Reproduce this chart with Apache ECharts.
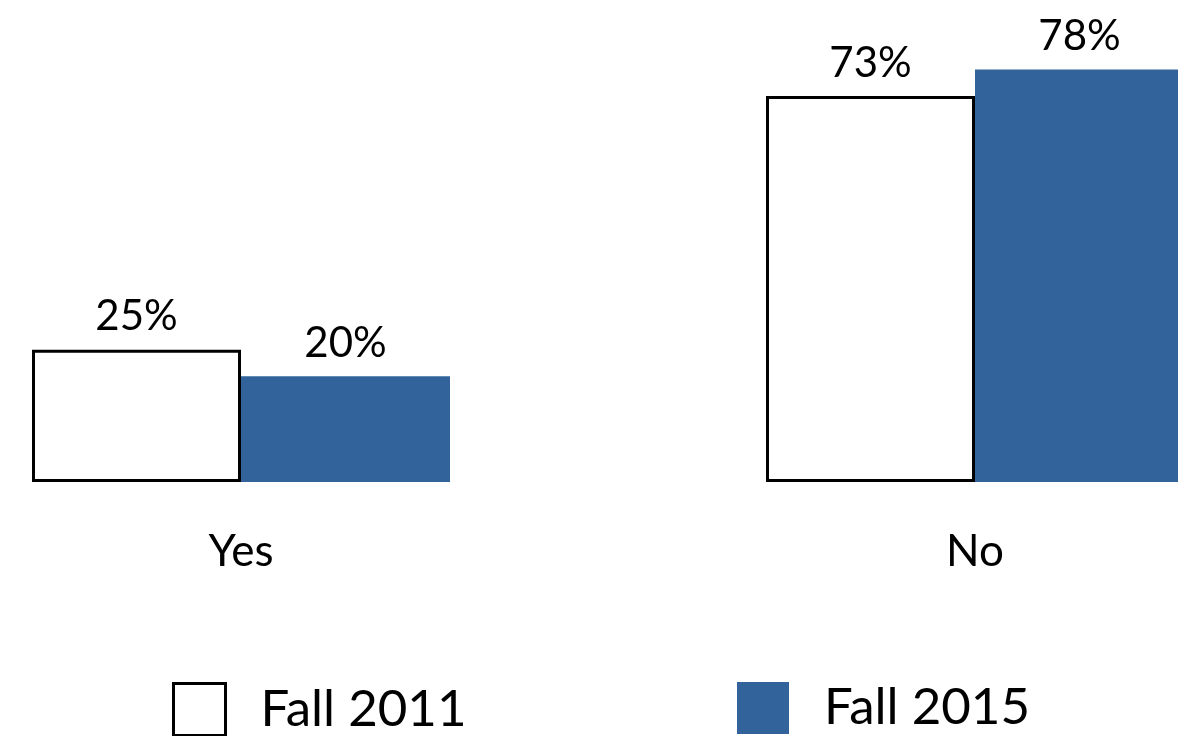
<!DOCTYPE html>
<html>
<head>
<meta charset="utf-8">
<script src="https://cdn.jsdelivr.net/npm/echarts@6/dist/echarts.min.js"></script>
<style>
  html, body { margin: 0; padding: 0; background: #fff; }
  #chart { width: 1178px; height: 736px; }
</style>
</head>
<body>
<div id="chart"></div>
<script>
var categories = ['Yes', 'No'];
var seriesNames = ['Fall 2011', 'Fall 2015'];
var fall2011 = [25, 73];
var fall2015 = [20, 78];

var FONT = 'Lato';
var BLUE = '#32639a';

var mychart = echarts.init(document.getElementById('chart'));

function pctLabel(p) {
  return p.value + '%';
}

var labelStyle = {
  show: true,
  position: 'top',
  distance: 12,
  formatter: pctLabel,
  color: '#000',
  fontFamily: FONT,
  fontSize: 42
};

function legendFor(name, left, style) {
  return {
    left: left,
    top: 677,
    orient: 'horizontal',
    itemWidth: 52,
    itemHeight: 52,
    icon: 'rect',
    selectedMode: false,
    data: [{ name: name, itemStyle: style }],
    textStyle: {
      color: '#000',
      fontFamily: FONT,
      fontSize: 51,
      padding: [0, 0, 0, 30]
    }
  };
}

var option = {
  animation: false,
  backgroundColor: '#fff',
  grid: {
    left: -126,
    right: -164,
    top: 59,
    bottom: 254,
    containLabel: false,
    outerBoundsMode: 'none'
  },
  legend: [
    legendFor(seriesNames[0], 167, { color: '#fff', borderColor: '#000', borderWidth: 3 }),
    legendFor(seriesNames[1], 732, { color: BLUE, borderWidth: 0 })
  ],
  xAxis: {
    type: 'category',
    data: categories,
    axisLine: { show: false },
    axisTick: { show: false },
    axisLabel: {
      color: '#000',
      fontFamily: FONT,
      fontSize: 44,
      margin: 48
    }
  },
  yAxis: {
    type: 'value',
    min: 0,
    max: 80,
    show: false,
    splitLine: { show: false }
  },
  series: [
    {
      name: seriesNames[0],
      type: 'bar',
      data: fall2011,
      barWidth: 209,
      barGap: '0%',
      itemStyle: { color: '#fff', borderColor: '#000', borderWidth: 3 },
      label: labelStyle
    },
    {
      name: seriesNames[1],
      type: 'bar',
      data: fall2015,
      barWidth: 209,
      barGap: '0%',
      itemStyle: { color: BLUE },
      label: labelStyle
    }
  ]
};

mychart.setOption(option);
</script>
</body>
</html>
